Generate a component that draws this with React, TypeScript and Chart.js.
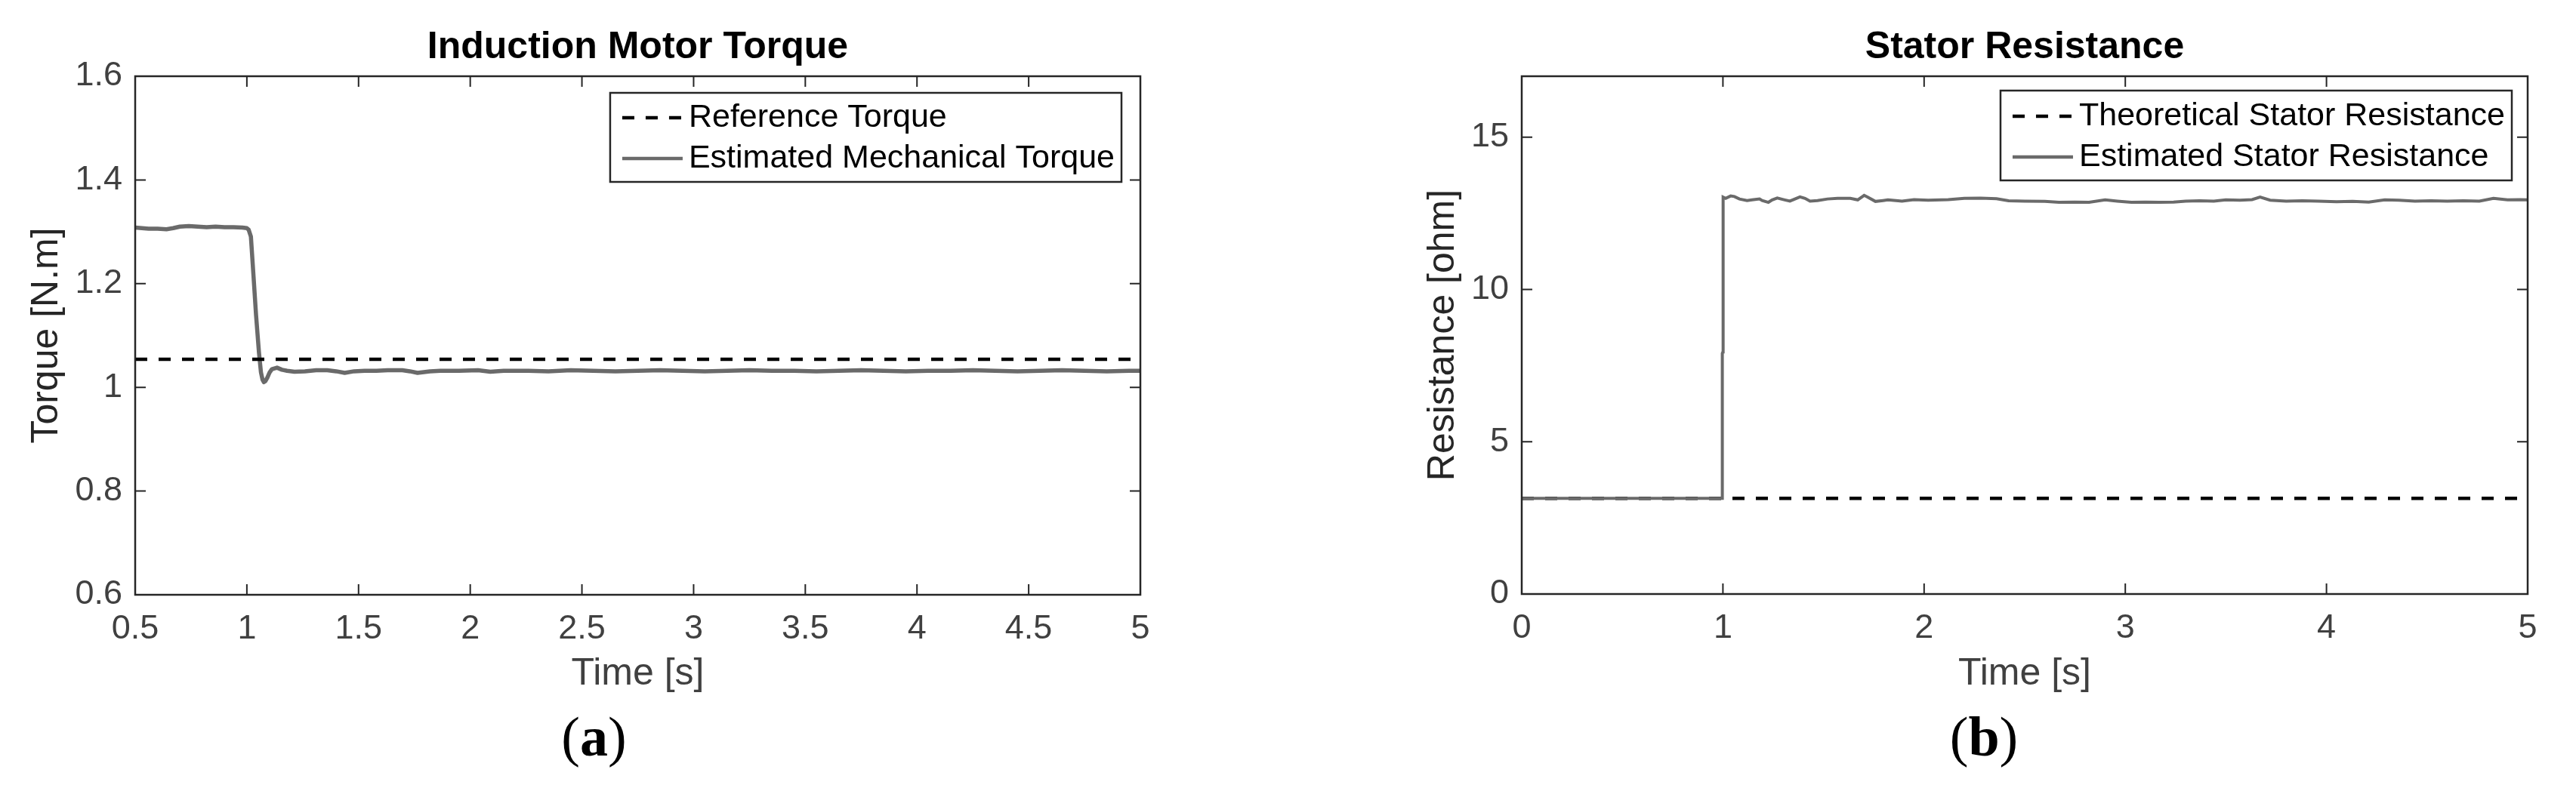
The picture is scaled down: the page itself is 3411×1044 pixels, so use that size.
import React, { useEffect, useRef } from 'react';
import { Chart, registerables } from 'chart.js';

Chart.register(...registerables);

// ---------- Panel (a): Induction Motor Torque ----------
const torqueTitle = 'Induction Motor Torque';
const torqueYLabel = 'Torque [N.m]';
const torqueSubLabel = 'a';
const torqueRefLabel = 'Reference Torque';
const torqueEstLabel = 'Estimated Mechanical Torque';
const torqueXTicks = [0.5, 1, 1.5, 2, 2.5, 3, 3.5, 4, 4.5, 5];
const torqueYTicks = [0.6, 0.8, 1, 1.2, 1.4, 1.6];
const torqueRefTime = [0.5, 5];
const torqueReference = [1.054, 1.054];
const torqueTime = [
  0.5, 0.53, 0.56, 0.6, 0.64, 0.67, 0.7, 0.74, 0.78, 0.82, 0.86, 0.9, 0.94, 0.98, 1.0,
  1.008, 1.018, 1.03, 1.041, 1.054, 1.063, 1.07, 1.076, 1.083, 1.092, 1.102, 1.112, 1.135,
  1.157, 1.18, 1.213, 1.26, 1.31, 1.36, 1.4, 1.438, 1.48, 1.527, 1.58, 1.63, 1.696, 1.73,
  1.764, 1.82, 1.866, 1.95, 2.035, 2.09, 2.15, 2.2, 2.26, 2.35, 2.45, 2.55, 2.65, 2.75,
  2.85, 2.95, 3.05, 3.15, 3.25, 3.35, 3.45, 3.55, 3.65, 3.75, 3.85, 3.95, 4.05, 4.15, 4.25,
  4.35, 4.45, 4.55, 4.65, 4.75, 4.85, 4.95, 5.0,
];
const torqueEstimated = [
  1.308, 1.307, 1.306, 1.306, 1.305, 1.307, 1.31, 1.311, 1.31, 1.309, 1.31, 1.309, 1.309, 1.308, 1.307,
  1.304, 1.291, 1.213, 1.14, 1.068, 1.029, 1.015, 1.01, 1.012, 1.019, 1.029, 1.035, 1.038,
  1.034, 1.032, 1.03, 1.031, 1.033, 1.033, 1.031, 1.028, 1.031, 1.032, 1.032, 1.033, 1.033, 1.031,
  1.028, 1.031, 1.032, 1.032, 1.033, 1.03, 1.032, 1.032, 1.032, 1.031, 1.033, 1.032, 1.031, 1.032,
  1.033, 1.032, 1.031, 1.032, 1.033, 1.032, 1.032, 1.031, 1.032, 1.033, 1.032, 1.031, 1.032, 1.032, 1.033,
  1.032, 1.031, 1.032, 1.033, 1.032, 1.031, 1.032, 1.032,
];

// ---------- Panel (b): Stator Resistance ----------
const resTitle = 'Stator Resistance';
const resYLabel = 'Resistance [ohm]';
const resSubLabel = 'b';
const resTheoLabel = 'Theoretical Stator Resistance';
const resEstLabel = 'Estimated Stator Resistance';
const resXTicks = [0, 1, 2, 3, 4, 5];
const resYTicks = [0, 5, 10, 15];
const resTheoTime = [0, 5];
const resTheoretical = [3.14, 3.14];
const resTime = [
  0, 0.996, 0.997, 1.0, 1.001, 1.0135, 1.0385, 1.057, 1.082, 1.12, 1.145, 1.182, 1.195, 1.226,
  1.245, 1.27, 1.3075, 1.333, 1.358, 1.383, 1.408, 1.433, 1.47, 1.52, 1.57, 1.633, 1.67, 1.702,
  1.72, 1.758, 1.796, 1.82, 1.89, 1.95, 2.02, 2.12, 2.2, 2.28, 2.36, 2.42, 2.5, 2.6, 2.67, 2.75,
  2.82, 2.9, 2.96, 3.03, 3.1, 3.17, 3.24, 3.3, 3.37, 3.44, 3.5, 3.57, 3.63, 3.67, 3.72, 3.8, 3.88,
  3.96, 4.05, 4.13, 4.21, 4.29, 4.36, 4.44, 4.52, 4.6, 4.68, 4.76, 4.83, 4.9, 4.96, 5.0,
];
const resEstimated = [
  3.14, 3.14, 7.9, 7.95, 13.03, 12.99, 13.07, 13.05, 12.97, 12.92, 12.94, 12.97, 12.92, 12.86,
  12.94, 13.0, 12.94, 12.9, 12.97, 13.04, 12.99, 12.9, 12.92, 12.97, 12.99, 12.99, 12.94, 13.09,
  13.03, 12.89, 12.92, 12.94, 12.9, 12.95, 12.93, 12.95, 12.99, 13.0, 12.98, 12.91, 12.9, 12.89, 12.86, 12.87,
  12.86, 12.94, 12.9, 12.86, 12.87, 12.86, 12.87, 12.9, 12.91, 12.9, 12.94, 12.93, 12.95, 13.03, 12.93, 12.9, 12.91,
  12.9, 12.88, 12.89, 12.87, 12.94, 12.93, 12.9, 12.91, 12.9, 12.91, 12.9, 12.99, 12.94, 12.95, 12.94,
];

const xLabel = 'Time [s]';

const SANS = '"Liberation Sans", Arial, Helvetica, sans-serif';
const SERIF = '"Liberation Serif", "Times New Roman", serif';
const AXIS_COLOR = '#262626';
const TICK_COLOR = '#404040';
const GRAY = '#6a6a6a';

const toPoints = (xs: number[], ys: number[]) => xs.map((x, i) => ({ x, y: ys[i] }));

const framePlugin = {
  id: 'frame',
  afterDatasetsDraw(chart: any, _args: any, opts: any) {
    const { ctx, chartArea } = chart;
    const { left, right, top, bottom } = chartArea;
    const xs = chart.scales.x;
    const ys = chart.scales.y;
    const L = 14;
    ctx.save();
    ctx.setLineDash([]);
    ctx.strokeStyle = AXIS_COLOR;
    ctx.lineWidth = 2;
    ctx.beginPath();
    xs.ticks.forEach((t: any) => {
      const px = xs.getPixelForValue(t.value);
      ctx.moveTo(px, bottom);
      ctx.lineTo(px, bottom - L);
      ctx.moveTo(px, top);
      ctx.lineTo(px, top + L);
    });
    ys.ticks.forEach((t: any) => {
      const py = ys.getPixelForValue(t.value);
      ctx.moveTo(left, py);
      ctx.lineTo(left + L, py);
      ctx.moveTo(right, py);
      ctx.lineTo(right - L, py);
    });
    ctx.stroke();
    ctx.lineWidth = 2.5;
    ctx.strokeRect(left, top, right - left, bottom - top);

    // title
    const cx = (left + right) / 2;
    ctx.fillStyle = '#000';
    ctx.font = `bold 50px ${SANS}`;
    ctx.textAlign = 'center';
    ctx.textBaseline = 'alphabetic';
    ctx.fillText(opts.title, cx, opts.titleBaseline);

    // sub label "(a)" with bold letter
    const size = 74;
    const reg = `${size}px ${SERIF}`;
    const bold = `bold ${size}px ${SERIF}`;
    ctx.font = reg;
    const wP1 = ctx.measureText('(').width;
    const wP2 = ctx.measureText(')').width;
    ctx.font = bold;
    const wL = ctx.measureText(opts.sub).width;
    const total = wP1 + wL + wP2;
    let sx = cx + opts.subOffset - total / 2;
    ctx.textAlign = 'left';
    ctx.font = reg;
    ctx.fillText('(', sx, opts.subBaseline);
    sx += wP1;
    ctx.font = bold;
    ctx.fillText(opts.sub, sx, opts.subBaseline);
    sx += wL;
    ctx.font = reg;
    ctx.fillText(')', sx, opts.subBaseline);
    ctx.restore();
  },
};

const legendPlugin = {
  id: 'boxLegend',
  afterDraw(chart: any, _args: any, opts: any) {
    const { ctx, chartArea } = chart;
    const ds = chart.data.datasets;
    ctx.save();
    ctx.font = `43px ${SANS}`;
    const textW = Math.max(...ds.map((d: any) => ctx.measureText(d.label).width));
    const padLeft = 16;
    const sample = 80;
    const gap = 8;
    const padRight = 9;
    const w = padLeft + sample + gap + textW + padRight;
    const right = chartArea.right - opts.insetRight;
    const leftX = right - w;
    const top = chartArea.top + opts.insetTop;
    const h = opts.height;
    ctx.fillStyle = '#fff';
    ctx.fillRect(leftX, top, w, h);
    ctx.lineWidth = 2.5;
    ctx.strokeStyle = AXIS_COLOR;
    ctx.setLineDash([]);
    ctx.strokeRect(leftX, top, w, h);
    ds.forEach((d: any, i: number) => {
      const y = top + opts.rowFirst + i * opts.rowStep;
      ctx.beginPath();
      ctx.setLineDash(d.borderDash || []);
      ctx.lineWidth = d.legendWidth || d.borderWidth;
      ctx.strokeStyle = d.borderColor;
      ctx.moveTo(leftX + padLeft, y);
      ctx.lineTo(leftX + padLeft + sample, y);
      ctx.stroke();
      ctx.setLineDash([]);
      ctx.fillStyle = '#000';
      ctx.textAlign = 'left';
      ctx.textBaseline = 'middle';
      ctx.fillText(d.label, leftX + padLeft + sample + gap, y);
    });
    ctx.restore();
  },
};

function buildConfig(p: any): any {
  return {
    type: 'line',
    data: { datasets: p.datasets },
    options: {
      responsive: false,
      animation: false,
      devicePixelRatio: 1,
      layout: { padding: { left: 0, top: p.top, right: p.padRight, bottom: 0 } },
      elements: { point: { radius: 0 }, line: { tension: 0 } },
      plugins: {
        legend: { display: false },
        title: { display: false },
        tooltip: { enabled: false },
        frame: { title: p.title, titleBaseline: 77, sub: p.sub, subOffset: p.subOffset, subBaseline: 1001 },
        boxLegend: p.legend,
      },
      scales: {
        x: {
          type: 'linear',
          min: p.xMin,
          max: p.xMax,
          afterBuildTicks: (s: any) => {
            s.ticks = p.xTicks.map((v: number) => ({ value: v }));
          },
          afterFit: (s: any) => {
            s.height = p.xHeight;
          },
          grid: { display: false, drawTicks: false },
          border: { display: false },
          ticks: {
            font: { family: SANS, size: 45 },
            color: TICK_COLOR,
            padding: 18.5,
            maxRotation: 0,
            autoSkip: false,
            callback: (v: any) => String(v),
          },
          title: {
            display: true,
            text: xLabel,
            font: { family: SANS, size: 50 },
            color: TICK_COLOR,
            padding: { top: 0, bottom: 120.5 },
          },
        },
        y: {
          type: 'linear',
          min: p.yMin,
          max: p.yMax,
          afterBuildTicks: (s: any) => {
            s.ticks = p.yTicks.map((v: number) => ({ value: v }));
          },
          afterFit: (s: any) => {
            s.width = p.yWidth;
          },
          grid: { display: false, drawTicks: false },
          border: { display: false },
          ticks: {
            font: { family: SANS, size: 45 },
            color: TICK_COLOR,
            padding: 17,
            autoSkip: false,
            callback: (v: any) => String(v),
          },
          title: {
            display: true,
            text: p.yLabel,
            font: { family: SANS, size: 50 },
            color: AXIS_COLOR,
            padding: { top: p.yTitlePad, bottom: 0 },
          },
        },
      },
    },
    plugins: [framePlugin, legendPlugin],
  };
}

const configA = () =>
  buildConfig({
    title: torqueTitle,
    sub: torqueSubLabel,
    subOffset: -58,
    yLabel: torqueYLabel,
    top: 101,
    padRight: 190,
    xHeight: 1044 - 788,
    yWidth: 179,
    yTitlePad: 32,
    xMin: 0.5,
    xMax: 5,
    yMin: 0.6,
    yMax: 1.6,
    xTicks: torqueXTicks,
    yTicks: torqueYTicks,
    legend: { insetRight: 25, insetTop: 22, height: 118, rowFirst: 33, rowStep: 54 },
    datasets: [
      {
        label: torqueRefLabel,
        data: toPoints(torqueRefTime, torqueReference),
        borderColor: '#000',
        borderWidth: 4.5,
        borderDash: [16, 15],
        borderCapStyle: 'butt',
        fill: false,
        order: 0,
      },
      {
        label: torqueEstLabel,
        data: toPoints(torqueTime, torqueEstimated),
        borderColor: GRAY,
        borderWidth: 5.5,
        legendWidth: 4.5,
        borderJoinStyle: 'round',
        fill: false,
        order: 1,
      },
    ],
  });

const configB = () =>
  buildConfig({
    title: resTitle,
    sub: resSubLabel,
    subOffset: -54,
    yLabel: resYLabel,
    top: 101,
    padRight: 1711 - 1647,
    xHeight: 1044 - 787,
    yWidth: 315,
    yTitlePad: 181,
    xMin: 0,
    xMax: 5,
    yMin: 0,
    yMax: 17,
    xTicks: resXTicks,
    yTicks: resYTicks,
    legend: { insetRight: 21, insetTop: 19, height: 119, rowFirst: 34, rowStep: 54 },
    datasets: [
      {
        label: resTheoLabel,
        data: toPoints(resTheoTime, resTheoretical),
        borderColor: '#000',
        borderWidth: 4.5,
        borderDash: [16, 15],
        borderCapStyle: 'butt',
        fill: false,
        order: 1,
      },
      {
        label: resEstLabel,
        data: toPoints(resTime, resEstimated),
        borderColor: GRAY,
        borderWidth: 4,
        legendWidth: 4.5,
        borderJoinStyle: 'miter',
        fill: false,
        order: 0,
      },
    ],
  });

export default function App() {
  const refA = useRef<HTMLCanvasElement>(null);
  const refB = useRef<HTMLCanvasElement>(null);
  useEffect(() => {
    const a = new Chart(refA.current as HTMLCanvasElement, configA());
    const b = new Chart(refB.current as HTMLCanvasElement, configB());
    return () => {
      a.destroy();
      b.destroy();
    };
  }, []);
  return (
    <div
      style={{
        position: 'absolute',
        left: 0,
        top: 0,
        width: 3411,
        height: 1044,
        background: '#fff',
        overflow: 'hidden',
      }}
    >
      <canvas
        ref={refA}
        width={1700}
        height={1044}
        style={{ position: 'absolute', left: 0, top: 0, width: 1700, height: 1044 }}
      />
      <canvas
        ref={refB}
        width={1711}
        height={1044}
        style={{ position: 'absolute', left: 1700, top: 0, width: 1711, height: 1044 }}
      />
    </div>
  );
}
